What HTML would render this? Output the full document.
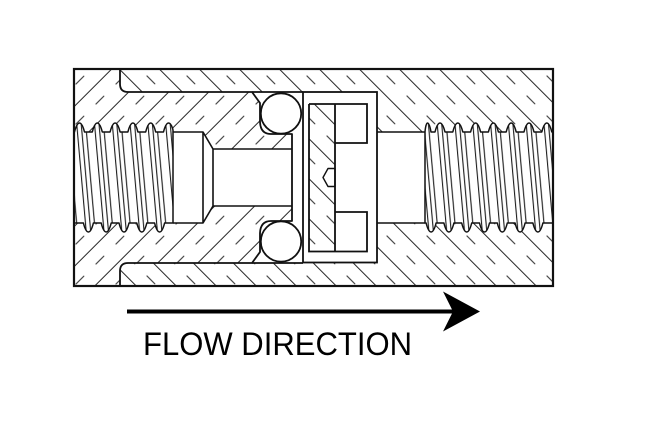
<!DOCTYPE html>
<html>
<head>
<meta charset="utf-8">
<style>
  html,body{margin:0;padding:0;background:#fff;}
  svg{display:block;}
</style>
</head>
<body>
<svg width="650" height="425" viewBox="0 0 650 425" xmlns="http://www.w3.org/2000/svg">
  <defs>
    <pattern id="hb" patternUnits="userSpaceOnUse" width="28.284" height="28.284" patternTransform="translate(11,0) rotate(45)">
      <rect x="0" y="0" width="28.284" height="1" fill="#2a2a2a"/>
      <rect x="8" y="13.64" width="12" height="1" fill="#2a2a2a"/>
    </pattern>
    <pattern id="hi" patternUnits="userSpaceOnUse" width="28.284" height="28.284" patternTransform="translate(20,0) rotate(-45)">
      <rect x="0" y="0" width="28.284" height="1" fill="#2a2a2a"/>
      <rect x="8" y="13.64" width="12" height="1" fill="#2a2a2a"/>
    </pattern>
    <pattern id="thL" patternUnits="userSpaceOnUse" width="17.8" height="400" patternTransform="translate(64.24,0) skewX(5.04)">
      <rect x="1" y="0" width="1.1" height="400" fill="#1a1a1a"/>
      <rect x="5.5" y="0" width="1.1" height="400" fill="#1a1a1a"/>
      <rect x="10" y="0" width="1.1" height="400" fill="#1a1a1a"/>
    </pattern>
    <pattern id="thR" patternUnits="userSpaceOnUse" width="17.8" height="400" patternTransform="translate(424.74,0) skewX(5.04)">
      <rect x="1" y="0" width="1.1" height="400" fill="#1a1a1a"/>
      <rect x="5.5" y="0" width="1.1" height="400" fill="#1a1a1a"/>
      <rect x="10" y="0" width="1.1" height="400" fill="#1a1a1a"/>
    </pattern>
  </defs>

  <rect x="0" y="0" width="650" height="425" fill="#fff"/>

  <!-- body hatch -->
  <rect x="74" y="69" width="479" height="217" fill="url(#hb)"/>

  <!-- cavity -->
  <rect x="252" y="92" width="125" height="171" fill="#fff"/>

  <!-- insert -->
  <path id="ins" d="M74,69 L120,69 L120,84 Q120,92 128,92 L252,92 L260,103 L260,122 Q260.5,134 271,134 L292,134 L292,221 L271,221 Q260.5,221 260,233 L260,252 L252,263 L128,263 Q120,263 120,271 L120,286 L74,286 Z" fill="#fff"/>
  <path d="M74,69 L120,69 L120,84 Q120,92 128,92 L252,92 L260,103 L260,122 Q260.5,134 271,134 L292,134 L292,221 L271,221 Q260.5,221 260,233 L260,252 L252,263 L128,263 Q120,263 120,271 L120,286 L74,286 Z" fill="url(#hi)"/>

  <!-- left bore -->
  <path d="M173,132 L203,132 L213,149 L292,149 L292,206 L213,206 L203,223 L173,223 Z" fill="#fff"/>

  <!-- right bore -->
  <rect x="377" y="132" width="48" height="91" fill="#fff"/>

  <!-- left threads -->
  <path id="tl" d="M74,132 L74.5,132 C76,126 77.5,123 79.5,123 C81.5,123 83,126 84.5,132 L92.3,132 C93.8,126 95.3,123 97.3,123 C99.3,123 100.8,126 102.3,132 L110.1,132 C111.6,126 113.1,123 115.1,123 C117.1,123 118.6,126 120.1,132 L127.9,132 C129.4,126 130.9,123 132.9,123 C134.9,123 136.4,126 137.9,132 L145.7,132 C147.2,126 148.7,123 150.7,123 C152.7,123 154.2,126 155.7,132 L163.5,132 C165,126 166.5,123 168.5,123 C170.5,123 172,126 173,130 L173,223 L164.6,223 C163.1,229 161.6,232 159.6,232 C157.6,232 156.1,229 154.6,223 L146.8,223 C145.3,229 143.8,232 141.8,232 C139.8,232 138.3,229 136.8,223 L129,223 C127.5,229 126,232 124,232 C122,232 120.5,229 119,223 L111.2,223 C109.7,229 108.2,232 106.2,232 C104.2,232 102.7,229 101.2,223 L93.4,223 C91.9,229 90.4,232 88.4,232 C86.4,232 84.9,229 83.4,223 L74,223 Z" fill="#fff"/>
  <path d="M74,132 L74.5,132 C76,126 77.5,123 79.5,123 C81.5,123 83,126 84.5,132 L92.3,132 C93.8,126 95.3,123 97.3,123 C99.3,123 100.8,126 102.3,132 L110.1,132 C111.6,126 113.1,123 115.1,123 C117.1,123 118.6,126 120.1,132 L127.9,132 C129.4,126 130.9,123 132.9,123 C134.9,123 136.4,126 137.9,132 L145.7,132 C147.2,126 148.7,123 150.7,123 C152.7,123 154.2,126 155.7,132 L163.5,132 C165,126 166.5,123 168.5,123 C170.5,123 172,126 173,130 L173,223 L164.6,223 C163.1,229 161.6,232 159.6,232 C157.6,232 156.1,229 154.6,223 L146.8,223 C145.3,229 143.8,232 141.8,232 C139.8,232 138.3,229 136.8,223 L129,223 C127.5,229 126,232 124,232 C122,232 120.5,229 119,223 L111.2,223 C109.7,229 108.2,232 106.2,232 C104.2,232 102.7,229 101.2,223 L93.4,223 C91.9,229 90.4,232 88.4,232 C86.4,232 84.9,229 83.4,223 L74,223 Z" fill="url(#thL)" stroke="#111" stroke-width="1.5" stroke-linejoin="round"/>

  <!-- right threads -->
  <path d="M425,132 C425.5,126 426.5,123 427.5,123 C429,123 430,126 431,132 L435,132 C436.5,126 438,123 440,123 C442,123 443.5,126 445,132 L452.8,132 C454.3,126 455.8,123 457.8,123 C459.8,123 461.3,126 462.8,132 L470.6,132 C472.1,126 473.6,123 475.6,123 C477.6,123 479.1,126 480.6,132 L488.4,132 C489.9,126 491.4,123 493.4,123 C495.4,123 496.9,126 498.4,132 L506.2,132 C507.7,126 509.2,123 511.2,123 C513.2,123 514.7,126 516.2,132 L524,132 C525.5,126 527,123 529,123 C531,123 532.5,126 534,132 L541.8,132 C543.3,126 544.8,123 546.8,123 C548.8,123 550.3,126 551.8,132 L553,132 L553,223 L542.9,223 C541.4,229 539.9,232 537.9,232 C535.9,232 534.4,229 532.9,223 L525.1,223 C523.6,229 522.1,232 520.1,232 C518.1,232 516.6,229 515.1,223 L507.3,223 C505.8,229 504.3,232 502.3,232 C500.3,232 498.8,229 497.3,223 L489.5,223 C488,229 486.5,232 484.5,232 C482.5,232 481,229 479.5,223 L471.7,223 C470.2,229 468.7,232 466.7,232 C464.7,232 463.2,229 461.7,223 L453.9,223 C452.4,229 450.9,232 448.9,232 C446.9,232 445.4,229 443.9,223 L436.1,223 C434.6,229 433.1,232 431.1,232 C429.1,232 427.6,229 426.1,223 L425,223 Z" fill="#fff"/>
  <path d="M425,132 C425.5,126 426.5,123 427.5,123 C429,123 430,126 431,132 L435,132 C436.5,126 438,123 440,123 C442,123 443.5,126 445,132 L452.8,132 C454.3,126 455.8,123 457.8,123 C459.8,123 461.3,126 462.8,132 L470.6,132 C472.1,126 473.6,123 475.6,123 C477.6,123 479.1,126 480.6,132 L488.4,132 C489.9,126 491.4,123 493.4,123 C495.4,123 496.9,126 498.4,132 L506.2,132 C507.7,126 509.2,123 511.2,123 C513.2,123 514.7,126 516.2,132 L524,132 C525.5,126 527,123 529,123 C531,123 532.5,126 534,132 L541.8,132 C543.3,126 544.8,123 546.8,123 C548.8,123 550.3,126 551.8,132 L553,132 L553,223 L542.9,223 C541.4,229 539.9,232 537.9,232 C535.9,232 534.4,229 532.9,223 L525.1,223 C523.6,229 522.1,232 520.1,232 C518.1,232 516.6,229 515.1,223 L507.3,223 C505.8,229 504.3,232 502.3,232 C500.3,232 498.8,229 497.3,223 L489.5,223 C488,229 486.5,232 484.5,232 C482.5,232 481,229 479.5,223 L471.7,223 C470.2,229 468.7,232 466.7,232 C464.7,232 463.2,229 461.7,223 L453.9,223 C452.4,229 450.9,232 448.9,232 C446.9,232 445.4,229 443.9,223 L436.1,223 C434.6,229 433.1,232 431.1,232 C429.1,232 427.6,229 426.1,223 L425,223 Z" fill="url(#thR)" stroke="#111" stroke-width="1.5" stroke-linejoin="round"/>

  <!-- cage -->
  <rect x="303" y="92" width="74" height="170.5" fill="#fff" stroke="#111" stroke-width="1.8"/>

  <!-- poppet -->
  <rect x="309" y="104" width="26" height="147.5" fill="url(#hb)"/>
  <path d="M328,168.5 L335,168.5 L335,186.5 L328,186.5 L323,177.5 Z" fill="#fff" stroke="#111" stroke-width="1.4" stroke-linejoin="round"/>
  <path d="M309,104 L367,104 L367,143 L335,143 M309,104 L309,251.5 L367,251.5 L367,212 L335,212 M335,104 L335,251.5" fill="none" stroke="#111" stroke-width="1.8"/>

  <!-- o-rings -->
  <circle cx="281" cy="113.5" r="20.2" fill="#fff" stroke="#111" stroke-width="1.8"/>
  <circle cx="281" cy="241.5" r="20.2" fill="#fff" stroke="#111" stroke-width="1.8"/>

  <!-- outlines -->
  <path d="M120,69 L120,84 Q120,92 128,92 L252,92 L260,103 L260,122 Q260.5,134 271,134 L292,134 L292,221 L271,221 Q260.5,221 260,233 L260,252 L252,263 L128,263 Q120,263 120,271 L120,286" fill="none" stroke="#111" stroke-width="1.8" stroke-linejoin="round"/>
  <path d="M252,92 L303,92 M252,263 L303,263" fill="none" stroke="#111" stroke-width="1.8"/>
  <path d="M173,132 L203,132 L213,149 L292,149 M173,223 L203,223 L213,206 L292,206 M203,132 L203,223 M213,149 L213,206" fill="none" stroke="#111" stroke-width="1.6" stroke-linejoin="round"/>
  <path d="M377,132 L425,132 M377,223 L425,223" fill="none" stroke="#111" stroke-width="1.6"/>

  <!-- outer body -->
  <rect x="74" y="69" width="479" height="217" fill="none" stroke="#111" stroke-width="2.2"/>

  <!-- flow arrow -->
  <line x1="127" y1="311.5" x2="455" y2="311.5" stroke="#000" stroke-width="4"/>
  <polygon points="480,311.5 443,291.5 453,311.5 443,331.5" fill="#000"/>

  <text x="143" y="355" font-family="Liberation Sans, Arial, sans-serif" font-size="32" fill="#000" textLength="269" lengthAdjust="spacingAndGlyphs">FLOW DIRECTION</text>
</svg>
</body>
</html>
